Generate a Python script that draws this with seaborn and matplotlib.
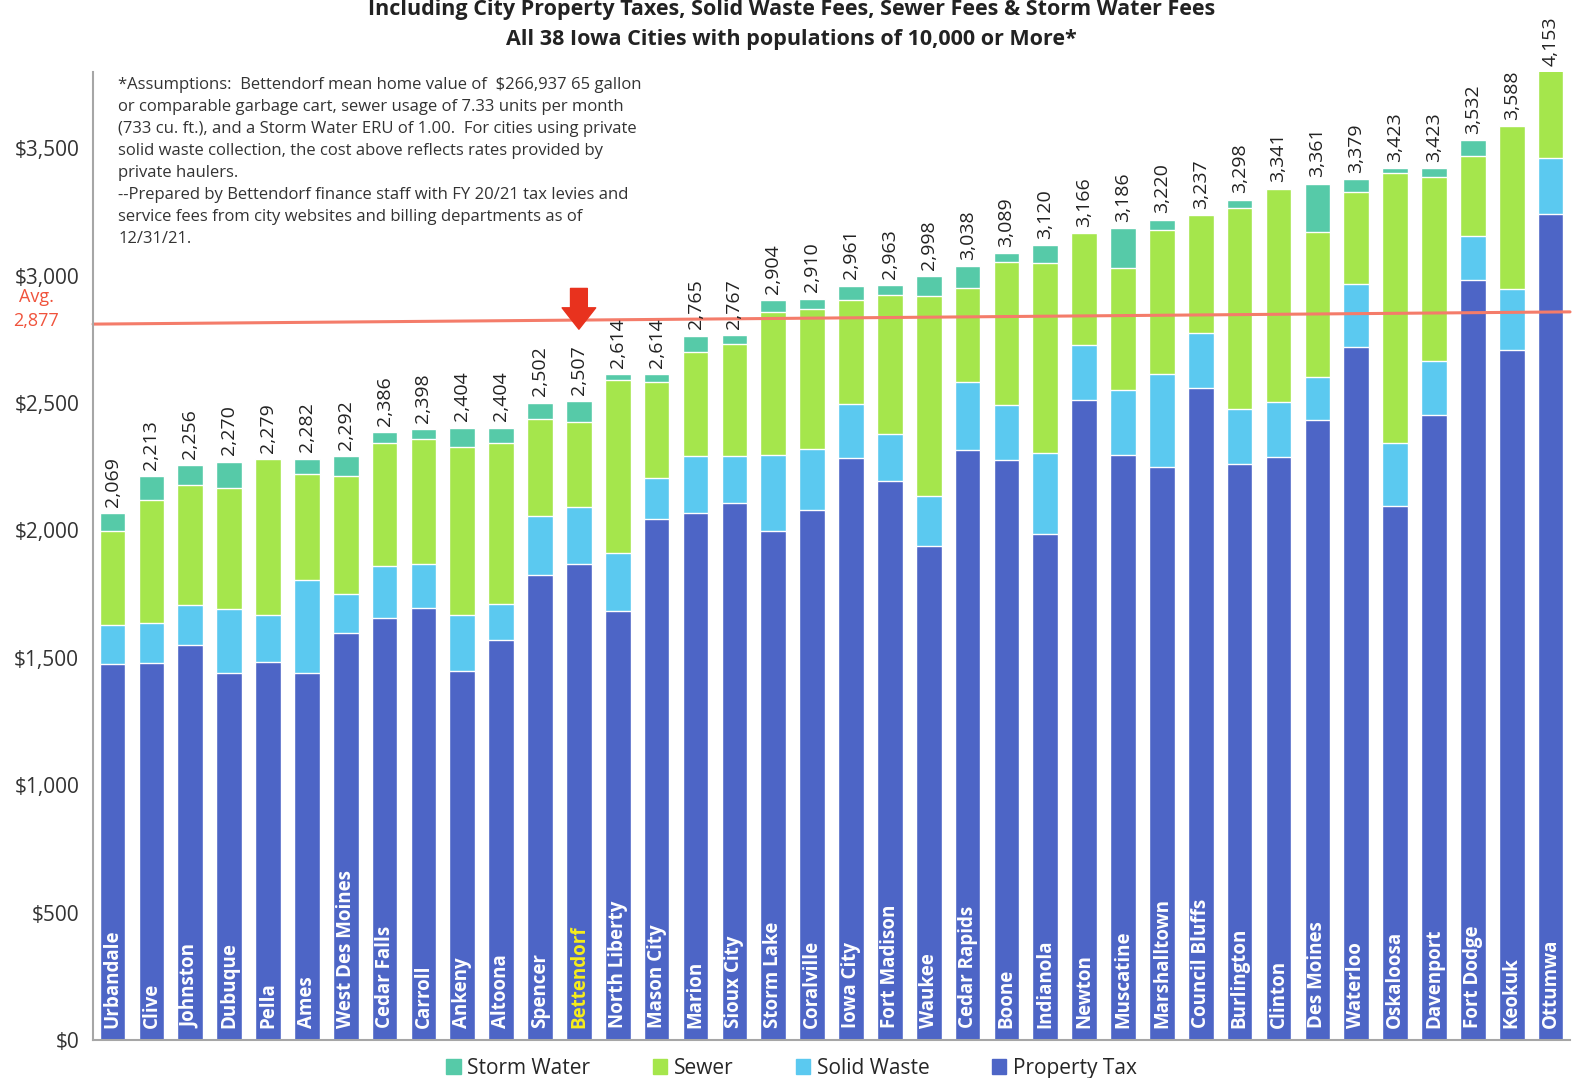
import pandas as pd
import matplotlib
matplotlib.use("Agg")
import matplotlib.pyplot as plt
import matplotlib.patches as mpatches
import seaborn as sns

CITIES = ["Urbandale", "Clive", "Johnston", "Dubuque", "Pella", "Ames", "West Des Moines",
          "Cedar Falls", "Carroll", "Ankeny", "Altoona", "Spencer", "Bettendorf",
          "North Liberty", "Mason City", "Marion", "Sioux City", "Storm Lake", "Coralville",
          "Iowa City", "Fort Madison", "Waukee", "Cedar Rapids", "Boone", "Indianola",
          "Newton", "Muscatine", "Marshalltown", "Council Bluffs", "Burlington", "Clinton",
          "Des Moines", "Waterloo", "Oskaloosa", "Davenport", "Fort Dodge", "Keokuk", "Ottumwa"]

PROPERTY_TAX = [1475, 1479, 1551, 1440, 1485, 1440, 1597, 1658, 1697, 1449, 1569, 1827, 1868,
                1682, 2044, 2070, 2107, 1998, 2080, 2284, 2196, 1937, 2316, 2275, 1987, 2514,
                2295, 2250, 2560, 2260, 2290, 2432, 2720, 2095, 2452, 2983, 2710, 3242]
SOLID_WASTE = [154, 157, 156, 250, 185, 366, 155, 204, 171, 221, 142, 228, 226, 229, 160, 223,
               186, 300, 239, 213, 182, 200, 265, 217, 316, 215, 255, 366, 215, 218, 215, 171,
               248, 250, 215, 171, 238, 220]
SEWER = [367, 484, 471, 475, 609, 416, 462, 481, 492, 656, 632, 384, 332, 680, 378, 409, 440,
         560, 552, 406, 547, 784, 370, 563, 746, 437, 480, 562, 462, 787, 836, 567, 360, 1058,
         721, 314, 640, 650]
STORM_WATER = [73, 93, 78, 105, 0, 60, 78, 43, 38, 78, 61, 63, 81, 23, 32, 63, 34, 46, 39, 58,
               38, 77, 87, 34, 71, 0, 156, 42, 0, 33, 0, 191, 51, 20, 35, 64, 0, 41]

AVERAGE = 2877
AVG_LINE_ENDS = [2810, 2858]   # line is drawn slightly tilted in the original
HIGHLIGHT = "Bettendorf"

COLORS = {
    "Storm Water": "#56CAA8",
    "Sewer": "#A5E64C",
    "Solid Waste": "#5BC9F0",
    "Property Tax": "#4D65C6",
}

NOTE = ("*Assumptions:  Bettendorf mean home value of  $266,937 65 gallon\n"
        "or comparable garbage cart, sewer usage of 7.33 units per month\n"
        "(733 cu. ft.), and a Storm Water ERU of 1.00.  For cities using private\n"
        "solid waste collection, the cost above reflects rates provided by\n"
        "private haulers.\n"
        "--Prepared by Bettendorf finance staff with FY 20/21 tax levies and\n"
        "service fees from city websites and billing departments as of\n"
        "12/31/21.")

df = pd.DataFrame({
    "city": CITIES,
    "Property Tax": PROPERTY_TAX,
    "Solid Waste": SOLID_WASTE,
    "Sewer": SEWER,
    "Storm Water": STORM_WATER,
})
df["c_pt"] = df["Property Tax"]
df["c_sw"] = df["c_pt"] + df["Solid Waste"]
df["c_se"] = df["c_sw"] + df["Sewer"]
df["total"] = df["c_se"] + df["Storm Water"]

sns.set_theme(style="white")
plt.rcParams["font.family"] = ["Open Sans", "DejaVu Sans"]

fig = plt.figure(figsize=(15.83, 10.78), dpi=100)
ax = fig.add_axes([0.0588, 0.0353, 0.933, 0.898])

# stacked bars: draw cumulative heights from the top layer down
for col, name in [("total", "Storm Water"), ("c_se", "Sewer"),
                  ("c_sw", "Solid Waste"), ("c_pt", "Property Tax")]:
    sns.barplot(data=df, x="city", y=col, color=COLORS[name], saturation=1,
                width=0.66, order=CITIES, ax=ax, errorbar=None)

ymax = 3800
ax.set_ylim(0, ymax)
ax.set_xlim(-0.5, len(CITIES) - 0.5)
ax.set_xlabel("")
ax.set_ylabel("")
ax.set_xticks([])
ax.set_yticks(range(0, 4000, 500))
ax.set_yticklabels([f"${v:,}" for v in range(0, 4000, 500)], fontsize=15, color="#333")
ax.tick_params(axis="y", length=0, pad=10)
for s in ["top", "right"]:
    ax.spines[s].set_visible(False)
for s in ["left", "bottom"]:
    ax.spines[s].set_color("#A6A6A6")
    ax.spines[s].set_linewidth(1.5)

# value labels and city names
for i, row in df.iterrows():
    top = min(row["total"], ymax)
    ax.text(i, top + 25, f"{row['total']:,}", rotation=90, ha="center", va="bottom",
            fontsize=14, color="#222", clip_on=False)
    ax.text(i, 45, row["city"], rotation=90, ha="center", va="bottom", fontsize=13.5,
            fontweight="bold", color="#F7EE1A" if row["city"] == HIGHLIGHT else "white")

# average line
ax.plot([-0.5, len(CITIES) - 0.5], AVG_LINE_ENDS, color="#F47C6A", lw=2.2, clip_on=False)
fig.text(0.023, 1 - 297 / 1078, "Avg.", color="#F0533C", fontsize=13, ha="center", va="center")
fig.text(0.023, 1 - 321 / 1078, f"{AVERAGE:,}", color="#F0533C", fontsize=13, ha="center", va="center")

# red arrow above Bettendorf
bi = CITIES.index(HIGHLIGHT)
ax.annotate("", xy=(bi, 2790), xytext=(bi, 2950),
            arrowprops=dict(arrowstyle="simple,head_width=1.1,head_length=0.7,tail_width=0.55",
                            color="#E8321E", mutation_scale=22, shrinkA=0, shrinkB=0))

# assumptions note
ax.text(0.017, 0.995, NOTE, transform=ax.transAxes, ha="left", va="top", fontsize=12,
        color="#333", linespacing=1.5)

# titles (first line cut at the top edge as in the original)
fig.text(0.5, 1 - 15 / 1078, "Including City Property Taxes, Solid Waste Fees, Sewer Fees & Storm Water Fees",
         ha="center", va="baseline", fontsize=15.5, fontweight="bold", color="#222")
fig.text(0.5, 1 - 45 / 1078, "All 38 Iowa Cities with populations of 10,000 or More*",
         ha="center", va="baseline", fontsize=15.5, fontweight="bold", color="#222")

handles = [mpatches.Patch(color=COLORS[n], label=n)
           for n in ["Storm Water", "Sewer", "Solid Waste", "Property Tax"]]
fig.legend(handles=handles, loc="lower center", bbox_to_anchor=(0.5, -0.018), ncol=4,
           frameon=False, fontsize=15, handlelength=0.7, handleheight=0.7,
           handletextpad=0.3, columnspacing=3.0)

fig.savefig("out.png", dpi=100)
